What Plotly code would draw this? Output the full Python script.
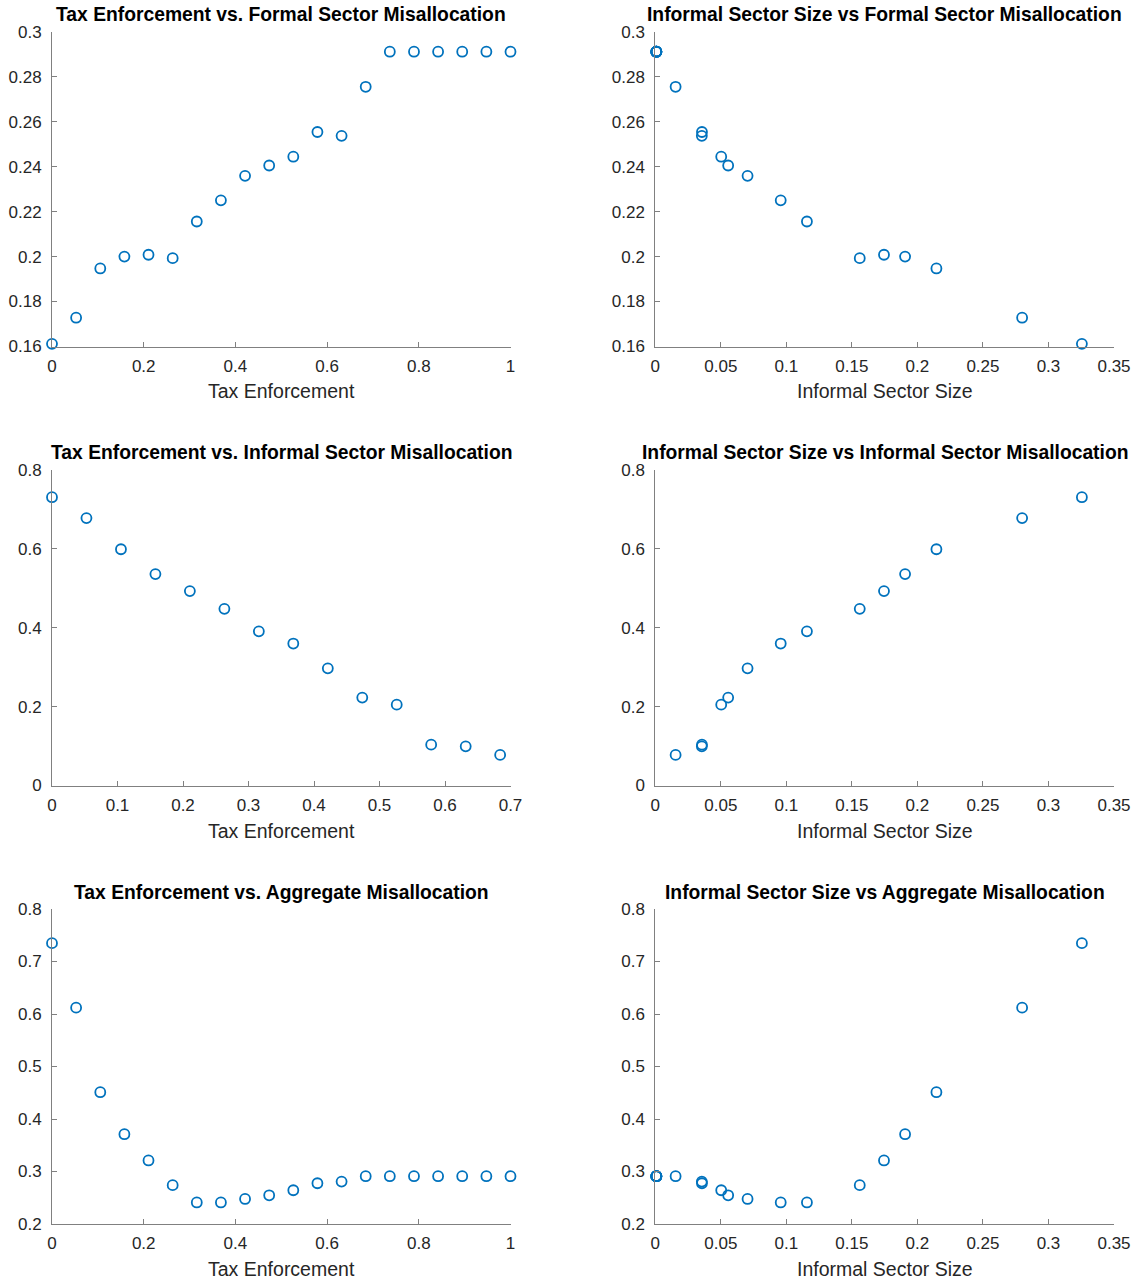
import plotly.graph_objects as go

# ---------------- data ----------------
tax_enforcement = [0.0, 0.0526, 0.1053, 0.1579, 0.2105, 0.2632, 0.3158, 0.3684,
                   0.4211, 0.4737, 0.5263, 0.5789, 0.6316, 0.6842, 0.7368, 0.7895,
                   0.8421, 0.8947, 0.9474, 1.0]
informal_size = [0.3255, 0.2799, 0.2145, 0.1906, 0.1745, 0.1560, 0.1157, 0.0957,
                 0.0704, 0.0556, 0.0503, 0.0356, 0.0355, 0.0155, 0.0008, 0.0008,
                 0.0008, 0.0008, 0.0008, 0.0008]
formal_misalloc = [0.1612, 0.1728, 0.1947, 0.2000, 0.2008, 0.1993, 0.2156, 0.2250,
                   0.2359, 0.2405, 0.2444, 0.2554, 0.2537, 0.2755, 0.2911, 0.2911,
                   0.2911, 0.2911, 0.2911, 0.2911]
informal_misalloc = [0.731, 0.678, 0.599, 0.536, 0.493, 0.448, 0.391, 0.360,
                     0.297, 0.223, 0.205, 0.1036, 0.0994, 0.0775, None, None,
                     None, None, None, None]
aggregate_misalloc = [0.735, 0.612, 0.451, 0.371, 0.321, 0.274, 0.241, 0.241,
                      0.2477, 0.2547, 0.2643, 0.2776, 0.2808, 0.2910, 0.2910, 0.2910,
                      0.2910, 0.2910, 0.2910, 0.2910]

titles = ["Tax Enforcement vs. Formal Sector Misallocation",
          "Informal Sector Size vs Formal Sector Misallocation",
          "Tax Enforcement vs. Informal Sector Misallocation",
          "Informal Sector Size vs Informal Sector Misallocation",
          "Tax Enforcement vs. Aggregate Misallocation",
          "Informal Sector Size vs Aggregate Misallocation"]
xlabels = ["Tax Enforcement", "Informal Sector Size"] * 3

# ---------------- layout helpers ----------------
W, H = 1142, 1281
FONT = "Liberation Sans, Arial, Helvetica, sans-serif"
BLUE = "#0072BD"
AX = "#808080"
TXT = "#262626"

col_px = [(52, 510.5), (655.3, 1114)]
row_px = [(31.7, 346.5), (470, 785.5), (909, 1224)]

def xd(c):
    a, b = col_px[c]
    return [a / W, b / W]

def yd(r):
    a, b = row_px[r]
    return [1 - b / H, 1 - a / H]

panels = [
    (tax_enforcement, formal_misalloc, [0, 1], 0.2, [0.16, 0.3], 0.02),
    (informal_size, formal_misalloc, [0, 0.35], 0.05, [0.16, 0.3], 0.02),
    (tax_enforcement, informal_misalloc, [0, 0.7], 0.1, [0, 0.8], 0.2),
    (informal_size, informal_misalloc, [0, 0.35], 0.05, [0, 0.8], 0.2),
    (tax_enforcement, aggregate_misalloc, [0, 1], 0.2, [0.2, 0.8], 0.1),
    (informal_size, aggregate_misalloc, [0, 0.35], 0.05, [0.2, 0.8], 0.1),
]

fig = go.Figure()
annotations = []
for i, (xs, ys, xr, dx, yr, dy) in enumerate(panels):
    r, c = divmod(i, 2)
    n = i + 1
    xa = "x" if n == 1 else f"x{n}"
    ya = "y" if n == 1 else f"y{n}"
    fig.add_trace(go.Scatter(
        x=xs, y=ys, mode="markers", xaxis=xa, yaxis=ya,
        marker=dict(symbol="circle-open", size=10, color=BLUE,
                    line=dict(width=1.8, color=BLUE)),
        cliponaxis=False, showlegend=False, hoverinfo="x+y"))
    common = dict(showgrid=False, zeroline=False, showline=True, linecolor=AX,
                  linewidth=1, ticks="inside", ticklen=5, tickwidth=1,
                  tickcolor=AX, mirror=False, automargin=False,
                  tickfont=dict(family=FONT, size=17, color=TXT))
    fig.layout[f"xaxis{'' if n == 1 else n}"] = dict(
        domain=xd(c), range=xr, dtick=dx, tick0=0, anchor=ya,
        ticklabelstandoff=4, **common)
    fig.layout[f"yaxis{'' if n == 1 else n}"] = dict(
        domain=yd(r), range=yr, dtick=dy, tick0=0, anchor=xa,
        ticklabelstandoff=6, **common)
    annotations.append(dict(
        text=f"<b>{titles[i]}</b>", xref=f"{xa} domain", yref=f"{ya} domain",
        x=0.5, y=1, xanchor="center", yanchor="middle", yshift=17,
        showarrow=False, font=dict(family=FONT, size=19.3, color="#000000")))
    annotations.append(dict(
        text=xlabels[i], xref=f"{xa} domain", yref=f"{ya} domain",
        x=0.5, y=0, xanchor="center", yanchor="middle", yshift=-45,
        showarrow=False, font=dict(family=FONT, size=19.5, color=TXT)))

fig.update_layout(template="none", width=W, height=H,
                  margin=dict(l=0, r=0, t=0, b=0, pad=0),
                  paper_bgcolor="white", plot_bgcolor="white",
                  annotations=annotations, showlegend=False)

fig.write_html("out.html", config={"displayModeBar": False},
               post_script="document.body.style.margin='0';")
